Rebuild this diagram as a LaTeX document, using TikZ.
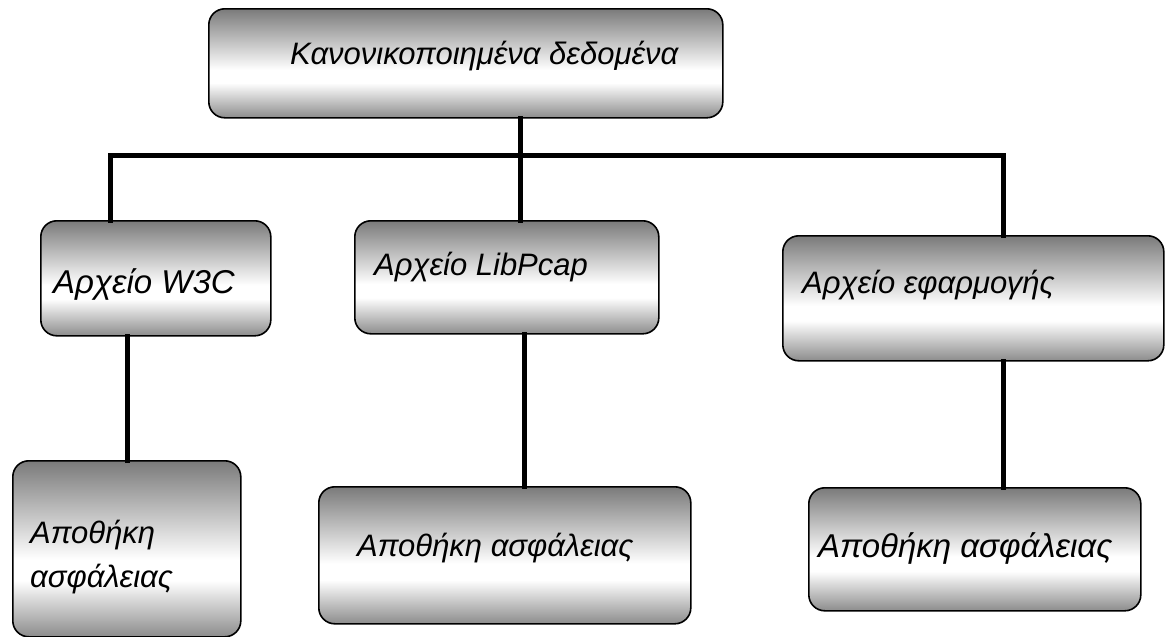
\documentclass[tikz,border=0pt]{standalone}
\usepackage{fontspec}
\setmainfont{Liberation Sans}
\begin{document}
% silver band shading: grey at the edges, white a little below the middle
\pgfdeclareverticalshading{silverband}{100bp}{%
  color(0bp)=(black!45); color(25bp)=(black!45);
  color(41bp)=(white); color(47bp)=(white);
  color(75bp)=(black!52); color(100bp)=(black!52)}
\begin{tikzpicture}[x=1pt,y=-1pt,
  box/.style={draw=black,line width=1.6pt,rounded corners=16pt,shading=silverband,
    anchor=north west,inner sep=0pt},
  lbl/.style={inner sep=0pt,anchor=base west,align=left,
    font=\itshape\fontsize{31}{44}\selectfont},
  biglbl/.style={lbl,font=\itshape\fontsize{33}{44}\selectfont},
  link/.style={line width=5pt,line cap=rect}]
\useasboundingbox (0,0) rectangle (1165,637);
% boxes
\node[box,minimum width=514pt,minimum height=109pt] (top) at (208,8) {};
\node[box,minimum width=230pt,minimum height=115pt] (w3c) at (40,220) {};
\node[box,minimum width=304pt,minimum height=113pt] (lib) at (354,220) {};
\node[box,minimum width=381pt,minimum height=125pt] (app) at (782,235) {};
\node[box,minimum width=228pt,minimum height=176pt] (bl) at (12,460) {};
\node[box,minimum width=372pt,minimum height=137pt] (bm) at (318,486) {};
\node[box,minimum width=332pt,minimum height=123pt] (br) at (808,487) {};
% texts
\node[lbl] (tTop) at (290,64) {Κανονικοποιημένα δεδομένα};
\node[biglbl] (tW3C) at (53,293) {Αρχείο W3C};
\node[lbl] (tLib) at (374,275) {Αρχείο LibPcap};
\node[lbl] (tApp) at (802,293) {Αρχείο εφαρμογής};
\node[lbl] (tBl) at (30,587) {Αποθήκη\\ασφάλειας};
\node[lbl] (tBm) at (357,556) {Αποθήκη ασφάλειας};
\node[biglbl] (tBr) at (818,557) {Αποθήκη ασφάλειας};
% connectors: a bus below the top box, then one drop per branch
\coordinate (xL) at (110,0);
\coordinate (xM) at (520,0);
\coordinate (xR) at (1003,0);
\coordinate (xL2) at (127,0);
\coordinate (xM2) at (524,0);
\coordinate (busL) at (110,155);
\coordinate (busM) at (520,155);
\coordinate (busR) at (1003,155);
\draw[link] (top.south -| xM) -- (busM);
\draw[link] (busL) -- (busR);
\draw[link] (busL) -- (w3c.north -| xL);
\draw[link] (busM) -- (lib.north -| xM);
\draw[link] (busR) -- (app.north -| xR);
\draw[link] (w3c.south -| xL2) -- (bl.north -| xL2);
\draw[link] (lib.south -| xM2) -- (bm.north -| xM2);
\draw[link] (app.south -| xR) -- (br.north -| xR);
\end{tikzpicture}
\end{document}
